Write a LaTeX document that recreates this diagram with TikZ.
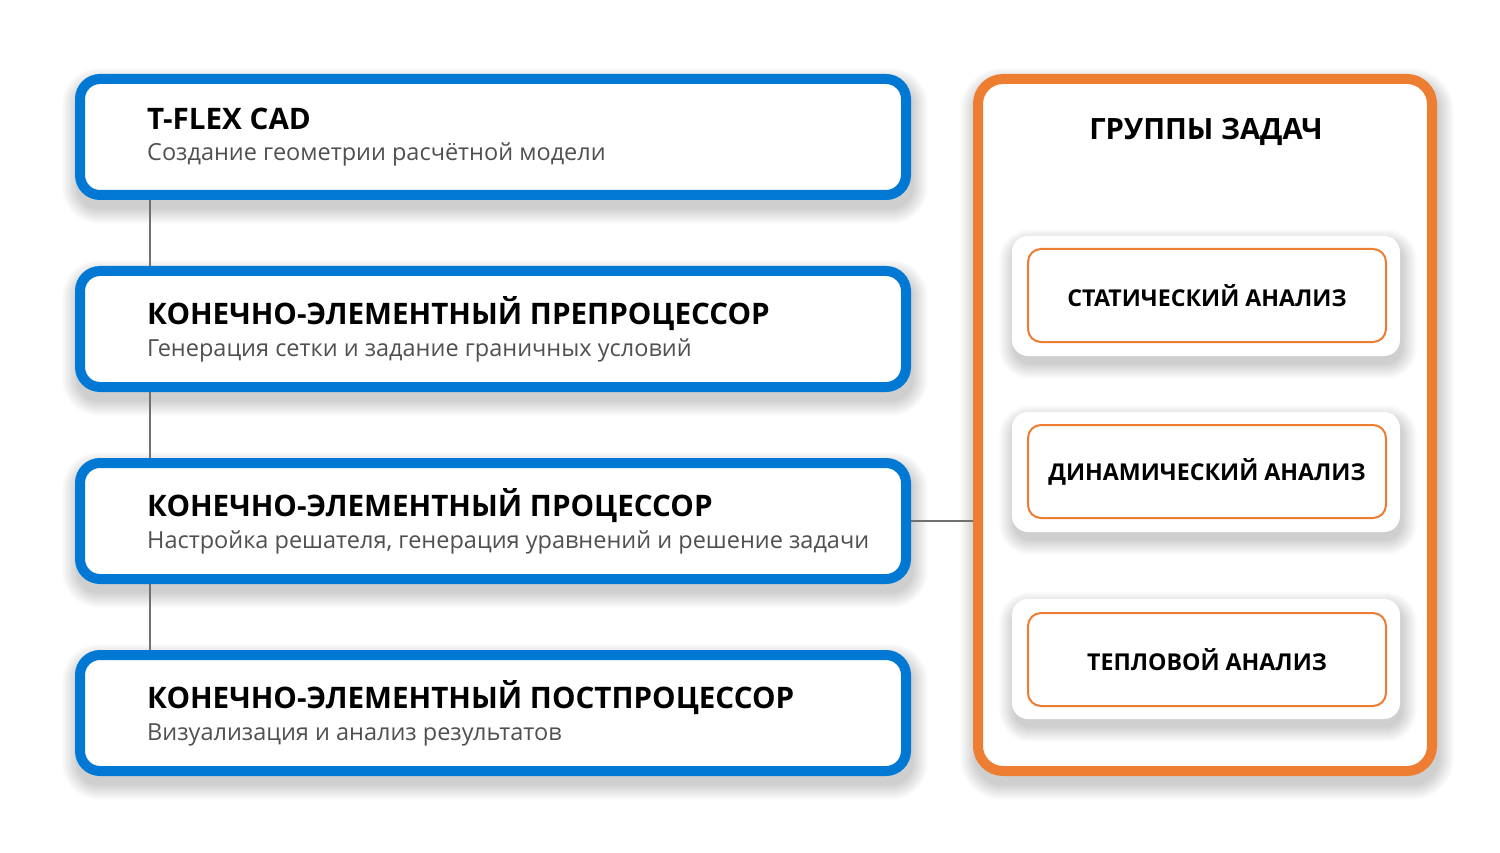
\documentclass[tikz,border=0pt]{standalone}
\usepackage{fontspec}
\setmainfont{Open Sans}
\definecolor{bluebox}{HTML}{0078D4}
\definecolor{orangebox}{HTML}{ED7D31}
\definecolor{connline}{HTML}{707070}
\definecolor{subtext}{HTML}{505050}
% soft shadow: center x, center y, outer width, outer height, radius, y offset
\newcommand{\softshade}[6]{%
  \foreach \k in {0,1,...,15}{%
    \fill[black, opacity=0.013, rounded corners={(#5+\k)*1pt}]
      ({#1-#3/2-\k+2},{#2-#4/2-\k+#6}) rectangle ({#1+#3/2+\k+2},{#2+#4/2+\k+#6});
  }%
}
\tikzset{
  stagebox/.style={draw=bluebox, line width=10pt, fill=white, rounded corners=20pt,
    minimum width=826pt, minimum height=116pt, inner sep=0pt},
  groupbox/.style={draw=orangebox, line width=10pt, fill=white, rounded corners=25pt,
    minimum width=454pt, minimum height=692pt, inner sep=0pt},
  cardbox/.style={draw=none, fill=white, rounded corners=16pt,
    minimum width=388pt, minimum height=120pt, inner sep=0pt},
  taskbox/.style={draw=orangebox, line width=2pt, fill=white, rounded corners=13pt,
    minimum width=358pt, minimum height=93pt, inner sep=0pt},
  titletext/.style={anchor=base west, inner sep=0pt, font=\fontsize{29.6}{34}\selectfont\bfseries, text=black},
  subtitletext/.style={anchor=base west, inner sep=0pt, font=\fontsize{23.5}{28}\selectfont, text=subtext},
  grouptitle/.style={anchor=base, inner sep=0pt, font=\fontsize{29.3}{34}\selectfont\bfseries, text=black},
  tasktext/.style={inner sep=0pt, font=\fontsize{23.2}{27}\selectfont\bfseries, text=black},
  conn/.style={draw=connline, line width=2pt},
}
\begin{document}
\begin{tikzpicture}[x=1pt,y=-1pt]
\useasboundingbox[fill=white] (0,0) rectangle (1500,853);
\coordinate (lx) at (150,0);
% shadows
\softshade{493}{137}{836}{126}{22}{9}
\softshade{493}{329}{836}{126}{22}{9}
\softshade{493}{521}{836}{126}{22}{9}
\softshade{493}{713}{836}{126}{22}{9}
\softshade{1205}{425}{464}{702}{27}{9}
% boxes
\node[stagebox] (b1) at (493,137) {};
\node[stagebox] (b2) at (493,329) {};
\node[stagebox] (b3) at (493,521) {};
\node[stagebox] (b4) at (493,713) {};
\node[groupbox] (grp) at (1205,425) {};
% connectors
\draw[conn] (b1.south -| lx) -- (b2.north -| lx);
\draw[conn] (b2.south -| lx) -- (b3.north -| lx);
\draw[conn] (b3.south -| lx) -- (b4.north -| lx);
\draw[conn] (b3.east) -- (b3.east -| grp.west);
% texts in stage boxes
\node[titletext] (t1) at (147,130) {T-FLEX CAD};
\node[subtitletext] (s1) at (147,161) {Создание геометрии расчётной модели};
\node[titletext] (t2) at (147,324) {КОНЕЧНО-ЭЛЕМЕНТНЫЙ ПРЕПРОЦЕССОР};
\node[subtitletext] (s2) at (147,356) {Генерация сетки и задание граничных условий};
\node[titletext] (t3) at (147,516) {КОНЕЧНО-ЭЛЕМЕНТНЫЙ ПРОЦЕССОР};
\node[subtitletext] (s3) at (147,548) {Настройка решателя, генерация уравнений и решение задачи};
\node[titletext] (t4) at (147,708) {КОНЕЧНО-ЭЛЕМЕНТНЫЙ ПОСТПРОЦЕССОР};
\node[subtitletext] (s4) at (147,740) {Визуализация и анализ результатов};
% group
\node[grouptitle] (gt) at (1206,140) {ГРУППЫ ЗАДАЧ};
\softshade{1206}{296}{388}{120}{16}{8}
\softshade{1206}{472}{388}{120}{16}{8}
\softshade{1206}{659}{388}{120}{16}{8}
\node[cardbox] (c1) at (1206,296) {};
\node[cardbox] (c2) at (1206,472) {};
\node[cardbox] (c3) at (1206,659) {};
\node[taskbox] (k1) at (1207,295.5) {};
\node[taskbox] (k2) at (1207,471.5) {};
\node[taskbox] (k3) at (1207,659.5) {};
\node[tasktext] at (k1) {СТАТИЧЕСКИЙ АНАЛИЗ};
\node[tasktext] at (k2) {ДИНАМИЧЕСКИЙ АНАЛИЗ};
\node[tasktext] at (k3) {ТЕПЛОВОЙ АНАЛИЗ};
\end{tikzpicture}
\end{document}
